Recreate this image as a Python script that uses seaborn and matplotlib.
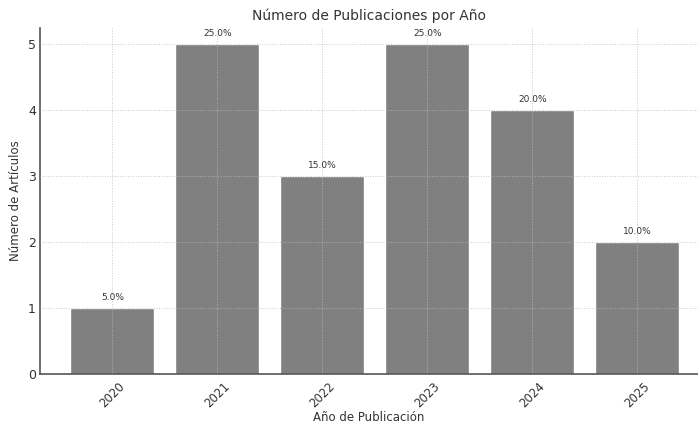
import matplotlib
matplotlib.use('Agg')
import matplotlib.pyplot as plt
import seaborn as sns
import pandas as pd

years = ['2020', '2021', '2022', '2023', '2024', '2025']
counts = [1, 5, 3, 5, 4, 2]
percent_labels = ['5.0%', '25.0%', '15.0%', '25.0%', '20.0%', '10.0%']

df = pd.DataFrame({'year': years, 'count': counts})

sns.set_style('white')
plt.rcParams['font.family'] = ['DejaVu Sans']

fig = plt.figure(figsize=(6.98, 4.25), dpi=100)
ax = fig.add_axes([40 / 698, 51 / 425, 658 / 698, 346 / 425])

sns.barplot(data=df, x='year', y='count', color='#808080', saturation=1,
            width=0.8, ax=ax)

for patch, lab in zip(ax.patches, percent_labels):
    ax.text(patch.get_x() + patch.get_width() / 2, patch.get_height() + 0.1, lab,
            ha='center', va='bottom', fontsize=6.5, color='#333333')

ax.set_ylim(0, 5.25)
ax.set_xlim(-0.69, 5.58)
ax.set_yticks([0, 1, 2, 3, 4, 5])

ax.set_axisbelow(False)
ax.grid(True, linestyle=':', color='#bbbbbb', linewidth=0.7, alpha=0.8)

for side in ['top', 'right']:
    ax.spines[side].set_visible(False)
for side in ['left', 'bottom']:
    ax.spines[side].set_color('#555555')
    ax.spines[side].set_linewidth(1.2)

ax.tick_params(axis='y', labelsize=9, colors='#333333', length=0, pad=3)
ax.tick_params(axis='x', labelsize=8.5, colors='#333333', length=2, pad=2)
plt.setp(ax.get_xticklabels(), rotation=45)

ax.set_title('Número de Publicaciones por Año', fontsize=10, color='#333333', pad=6)
ax.set_xlabel('Año de Publicación', fontsize=8.5, color='#333333', labelpad=1)
ax.set_ylabel('Número de Artículos', fontsize=8.5, color='#333333', labelpad=4)

fig.savefig('out.png', dpi=100)
